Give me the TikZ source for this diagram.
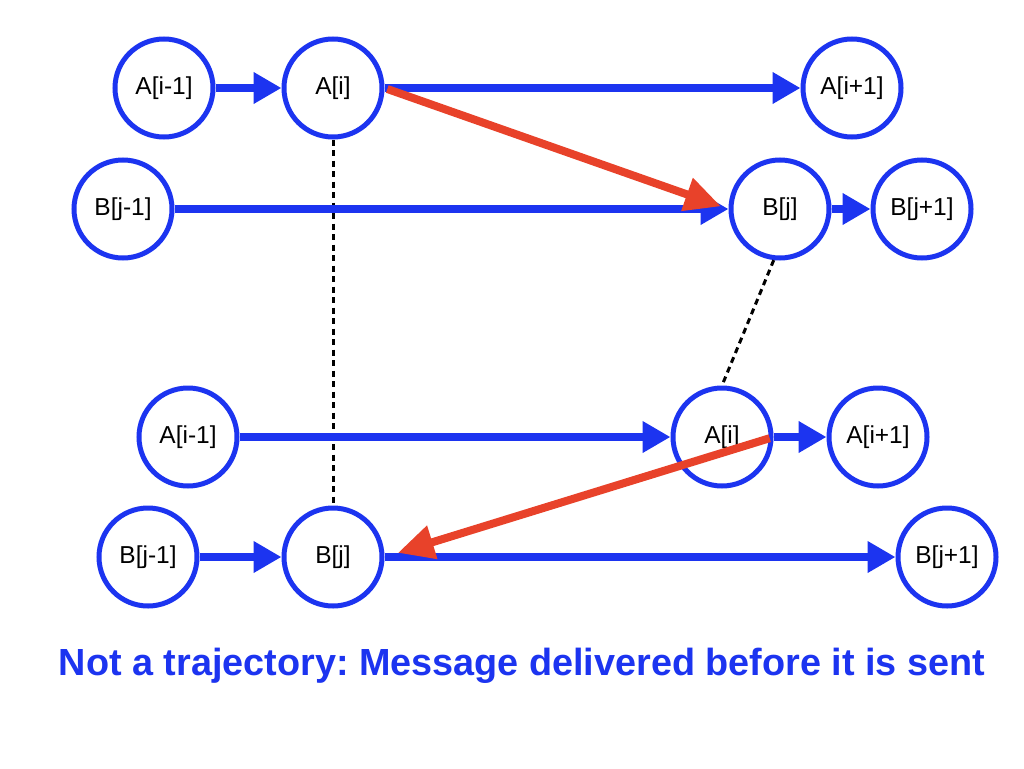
\documentclass[tikz,border=0pt]{standalone}
\usepackage{fontspec}
\setmainfont{Liberation Sans}
\usetikzlibrary{arrows.meta,calc}
\definecolor{nblue}{RGB}{28,52,240}
\definecolor{nred}{RGB}{232,66,42}
\frenchspacing
\tikzset{
  st/.style={circle,draw=nblue,line width=5pt,minimum size=98pt,inner sep=0pt,fill=white,font=\fontsize{24.5}{28}\selectfont},
  blu/.style={draw=nblue,line width=8pt,-{Triangle[length=28pt,width=30pt]}},
  rd/.style={draw=nred,line width=8pt,-{Triangle[length=36pt,width=33pt]}},
  dots/.style={draw=black,line width=3pt,dash pattern=on 6pt off 4.5pt}
}
\begin{document}
\begin{tikzpicture}[x=1pt,y=-1pt]
\useasboundingbox (0,0) rectangle (1024,768);
% row 1
\node[st] (a1m) at (164,88) {A[i-1]};
\node[st] (a1i) at (333,88) {A[i]};
\node[st] (a1p) at (852,88) {A[i+1]};
% row 2
\node[st] (b2m) at (123,209) {B[j-1]};
\node[st] (b2j) at (780,209) {B[j]};
\node[st] (b2p) at (922,209) {B[j+1]};
% row 3
\node[st] (a3m) at (188,437) {A[i-1]};
\node[st] (a3i) at (722,437) {A[i]};
\node[st] (a3p) at (878,437) {A[i+1]};
% row 4
\node[st] (b4m) at (148,557) {B[j-1]};
\node[st] (b4j) at (333,557) {B[j]};
\node[st] (b4p) at (947,557) {B[j+1]};
% dotted
\draw[dots] (a1i.south) -- (b4j.north);
\draw[dots] (b2j.-97) -- (a3i.north);
% blue arrows
\draw[blu] (a1m) -- (a1i);
\draw[blu] (a1i) -- (a1p);
\draw[blu] (b2m) -- (b2j);
\draw[blu] (b2j) -- (b2p);
\draw[blu] (a3m) -- (a3i);
\draw[blu] (a3i) -- (a3p);
\draw[blu] (b4m) -- (b4j);
\draw[blu] (b4j) -- (b4p);
% red arrows
\draw[rd,shorten <=3pt,shorten >=8pt] (a1i.east) -- (b2j.west);
\draw[rd,shorten <=4pt,shorten >=14pt] (a3i.east) -- (b4j.east);
% title
\node[text=nblue,font=\bfseries\fontsize{37.8}{42}\selectfont,anchor=base] (title) at (522,675) {Not a trajectory: Message delivered before it is sent};
\end{tikzpicture}
\end{document}
